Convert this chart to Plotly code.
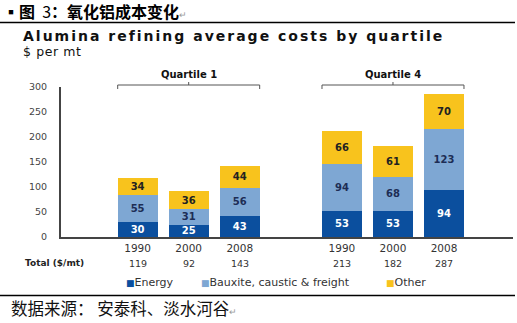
import plotly.graph_objects as go

# ---- data ----
years = ["1990", "2000", "2008", "1990", "2000", "2008"]
slots = [0, 1, 2, 4, 5, 6]
energy = [30, 25, 43, 53, 53, 94]
bauxite = [55, 31, 56, 94, 68, 123]
other = [34, 36, 44, 66, 61, 70]
totals = [119, 92, 143, 213, 182, 287]
series_names = ["Energy", "Bauxite, caustic & freight", "Other"]
groups = ["Quartile 1", "Quartile 4"]
group_slots = [[0, 1, 2], [4, 5, 6]]

colors = ["#0b4f9e", "#7ea7d3", "#f8c31d"]
label_colors = ["#ffffff", "#1d2d55", "#222222"]

W, H = 517, 323
L, R, T, B = 61, 4, 87, 86
PW, PH = W - L - R, H - T - B


def px(x):
    return (x - L) / PW


def py(y):
    return (H - B - y) / PH


FONT = "DejaVu Sans"
BAR_W = 0.78

fig = go.Figure()
for name, vals, col, lc in zip(series_names, [energy, bauxite, other], colors, label_colors):
    fig.add_trace(go.Bar(
        x=slots, y=vals, name=name, width=BAR_W,
        marker=dict(color=col, line=dict(width=0)),
        text=[str(v) for v in vals], textposition="inside",
        insidetextanchor="middle", textangle=0,
        insidetextfont=dict(family=FONT, size=10, color=lc, weight="bold"),
        showlegend=False, hoverinfo="skip",
    ))

fig.update_layout(
    barmode="stack", width=W, height=H,
    margin=dict(l=L, r=R, t=T, b=B, pad=0),
    paper_bgcolor="white", plot_bgcolor="white",
    uniformtext=dict(minsize=10, mode="show"),
    xaxis=dict(range=[-1.5, 7.35], tickvals=slots, ticktext=years,
               showline=True, linecolor="#444444", linewidth=2,
               showgrid=False, zeroline=False, ticks="",
               tickfont=dict(family=FONT, size=10.5, color="#333333")),
    yaxis=dict(range=[0, 300], tickvals=[0, 50, 100, 150, 200, 250, 300],
               showline=True, linecolor="#444444", linewidth=2,
               showgrid=False, zeroline=False, ticks="", ticklabelstandoff=10,
               tickfont=dict(family=FONT, size=9.5, color="#444444")),
)

ann = []
# heading
ann.append(dict(
    text="<b>▪图&nbsp;</b>&nbsp;3<b>：氧化铝成本变化</b><span style='color:#999999;font-size:9px'>↵</span>",
    x=px(1), y=py(11), xref="paper", yref="paper", xanchor="left", yanchor="middle",
    showarrow=False, font=dict(family="Noto Sans CJK SC", size=16, color="#000000")))
ann.append(dict(
    text="<b><span style='letter-spacing:2px'>Alumina refining average costs by quartile</span></b>",
    x=px(21), y=py(35.5), xref="paper", yref="paper", xanchor="left", yanchor="middle",
    showarrow=False, font=dict(family=FONT, size=14, color="#111111")))
ann.append(dict(
    text="<span style='letter-spacing:0.6px'>$ per mt</span>", x=px(21), y=py(51),
    xref="paper", yref="paper", xanchor="left", yanchor="middle", showarrow=False,
    font=dict(family=FONT, size=12.5, color="#111111")))

# quartile group labels and brackets
shapes = []
for g, sl in zip(groups, group_slots):
    x0, x1 = sl[0] - BAR_W / 2, sl[-1] + BAR_W / 2
    xm = (sl[0] + sl[-1]) / 2
    ann.append(dict(text="<b>" + g + "</b>", x=xm, y=py(75), xref="x", yref="paper",
                    xanchor="center", yanchor="middle", showarrow=False,
                    font=dict(family=FONT, size=10, color="#111111")))
    yb = py(85)
    line = dict(color="#555555", width=1)
    shapes.append(dict(type="line", xref="x", yref="paper", x0=x0, x1=x1, y0=yb, y1=yb, line=line))
    shapes.append(dict(type="line", xref="x", yref="paper", x0=x0, x1=x0, y0=yb, y1=py(89), line=line))
    shapes.append(dict(type="line", xref="x", yref="paper", x0=x1, x1=x1, y0=yb, y1=py(89), line=line))
    shapes.append(dict(type="line", xref="x", yref="paper", x0=xm, x1=xm, y0=yb, y1=py(82), line=line))

# totals row
ann.append(dict(text="<b>Total ($/mt)</b>", x=px(23), y=py(263), xref="paper", yref="paper",
                xanchor="left", yanchor="middle", showarrow=False,
                font=dict(family=FONT, size=9, color="#222222")))
for s, t in zip(slots, totals):
    ann.append(dict(text=str(t), x=s, y=py(263), xref="x", yref="paper",
                    xanchor="center", yanchor="middle", showarrow=False,
                    font=dict(family=FONT, size=9.5, color="#333333")))

# legend row
legend_x = [124, 199, 384]
for name, col, lx in zip(series_names, colors, legend_x):
    ann.append(dict(
        text="<span style='color:%s;font-size:9px'>■</span>%s" % (col, name),
        x=px(lx), y=py(282), xref="paper", yref="paper", xanchor="left", yanchor="middle",
        showarrow=False, font=dict(family=FONT, size=11, color="#333333")))

# source line
ann.append(dict(
    text="数据来源： 安泰科、淡水河谷<span style='color:#999999;font-size:9px'>↵</span>",
    x=px(9), y=py(308), xref="paper", yref="paper", xanchor="left", yanchor="middle",
    showarrow=False, font=dict(family="Noto Sans CJK SC", size=16.5, color="#111111")))

# rules above and below the figure
for yy in (22.5, 295.5):
    shapes.append(dict(type="line", xref="paper", yref="paper", x0=px(0), x1=px(515),
                       y0=py(yy), y1=py(yy), line=dict(color="#000000", width=1.5)))

fig.update_layout(annotations=ann, shapes=shapes)
fig.write_html("out.html")
